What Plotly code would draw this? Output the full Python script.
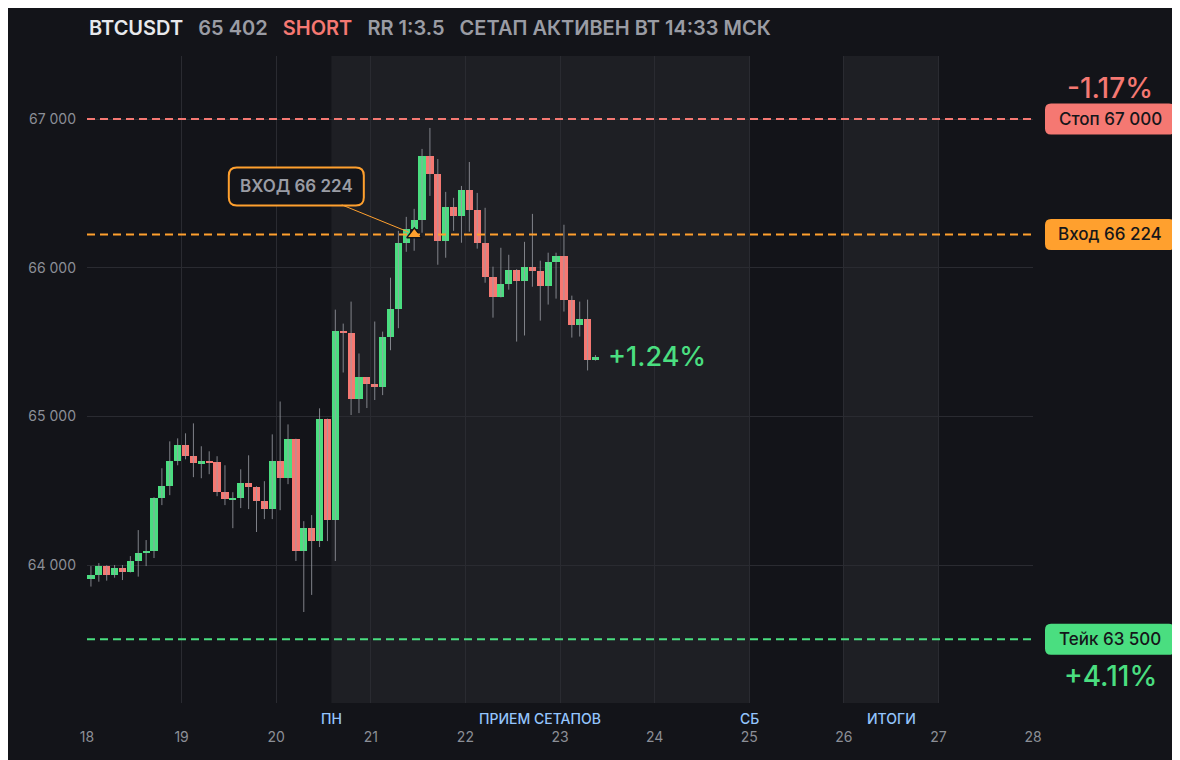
import numpy as np
import plotly.graph_objects as go

# 2h candles starting on the 18th
OPEN = [63908, 63933, 63993, 63935, 63980, 63953, 64027, 64081, 64094, 64450,
        64530, 64698, 64805, 64732, 64685, 64698, 64690, 64490, 64436, 64450,
        64550, 64524, 64430, 64376, 64698, 64584, 64846, 64094, 64248, 64161,
        64980, 64302, 65577, 65562, 65116, 65262, 65217, 65197, 65537, 65725,
        66168, 66262, 66322, 66752, 66631, 66181, 66409, 66349, 66523, 66389,
        66168, 65940, 65805, 65893, 65987, 65913, 66007, 65980, 65879, 66040,
        66081, 65785, 65617, 65658, 65380]
HIGH = [63993, 64013, 63998, 64000, 64000, 64060, 64235, 64168, 64456, 64651,
        64832, 64852, 64886, 64953, 64799, 64765, 64732, 64671, 64490, 64644,
        64738, 64530, 64564, 64879, 65100, 64946, 64850, 64295, 64336, 65054,
        64985, 65718, 65624, 65772, 65423, 65265, 65638, 65570, 65933, 66248,
        66342, 66396, 66799, 66940, 66731, 66510, 66470, 66550, 66711, 66503,
        66403, 66007, 66134, 66087, 65990, 66174, 66362, 66047, 66101, 66101,
        66289, 65812, 65772, 65785, 65412]
LOW = [63855, 63888, 63895, 63915, 63899, 63950, 63922, 63993, 64047, 64403,
       64470, 64671, 64711, 64591, 64584, 64611, 64463, 64403, 64248, 64383,
       64376, 64222, 64309, 64309, 64369, 64544, 64027, 63684, 63799, 64121,
       64161, 64027, 65295, 65009, 65022, 65056, 65110, 65143, 65445, 65593,
       66107, 66114, 66235, 66483, 66020, 66067, 66248, 66168, 66242, 66128,
       65899, 65664, 65800, 65852, 65503, 65544, 65872, 65644, 65752, 65792,
       65705, 65530, 65537, 65309, 65375]
CLOSE = [63933, 63993, 63935, 63980, 63953, 64027, 64081, 64094, 64450, 64530,
         64698, 64805, 64732, 64685, 64698, 64690, 64490, 64443, 64450, 64550,
         64524, 64430, 64376, 64698, 64584, 64846, 64094, 64248, 64161, 64980,
         64302, 65577, 65562, 65116, 65262, 65217, 65197, 65537, 65725, 66168,
         66262, 66322, 66752, 66631, 66181, 66409, 66349, 66523, 66389, 66168,
         65940, 65805, 65893, 65987, 65913, 66007, 65980, 65879, 66040, 66081,
         65785, 65617, 65658, 65380, 65402]

STOP = 67000
ENTRY = 66224
TAKE = 63500
ENTRY_T = 21.46            # вт 14:33 мск
LAST = 65402

DAYS = list(range(18, 29))
Y_TICKS = [64000, 65000, 66000, 67000]
Y_TICK_TEXT = ["64 000", "65 000", "66 000", "67 000"]
SESSION = (20 + 14 / 24, 25)   # пн 14:00 -> сб
RESULTS = (26, 27)

X_RANGE = [18, 28]
Y_RANGE = [63072, 67424]

BG = "#131419"
SHADE = "#1e1f24"
GRID = "#2a2b31"
GREEN = "#4ade80"
RED = "#f57872"
ORANGE = "#ffa02e"
GRAY = "#9a9ca4"
BLUE = "#93c5fd"
FONT = "Inter"

# page body adds 8px around the figure
W, H = 1172, 752
M = dict(l=79, r=147, t=48, b=57)
PW = W - M["l"] - M["r"]
PH = H - M["t"] - M["b"]

t = 18 + (np.arange(len(OPEN)) * 2 + 1) / 24
o, h, l, c = map(np.array, (OPEN, HIGH, LOW, CLOSE))


def py(price):
    return (price - Y_RANGE[0]) / (Y_RANGE[1] - Y_RANGE[0])


def px_x(day):
    return (day - X_RANGE[0]) / (X_RANGE[1] - X_RANGE[0])


def rounded_box(cx, cy, w, h, r):
    """Rounded rectangle path in paper coords, sizes in pixels."""
    x0, x1 = cx - w / 2 / PW, cx + w / 2 / PW
    y0, y1 = cy - h / 2 / PH, cy + h / 2 / PH
    rx, ry = r / PW, r / PH
    return (f"M {x0+rx},{y0} L {x1-rx},{y0} Q {x1},{y0} {x1},{y0+ry} "
            f"L {x1},{y1-ry} Q {x1},{y1} {x1-rx},{y1} L {x0+rx},{y1} "
            f"Q {x0},{y1} {x0},{y1-ry} L {x0},{y0+ry} Q {x0},{y0} {x0+rx},{y0} Z")


fig = go.Figure()

# wicks
wx, wy = [], []
for ti, hi, lo in zip(t, h, l):
    wx += [ti, ti, None]
    wy += [lo, hi, None]
fig.add_trace(go.Scatter(x=wx, y=wy, mode="lines",
                         line=dict(color="rgba(155,157,165,0.8)", width=1),
                         hoverinfo="skip", showlegend=False))

# bodies
colors = [GREEN if ci >= oi else RED for oi, ci in zip(o, c)]
fig.add_trace(go.Bar(x=t, base=np.minimum(o, c), y=np.maximum(np.abs(c - o), 8),
                     width=0.076, marker=dict(color=colors, line=dict(width=0)),
                     customdata=np.stack([o, h, l, c], axis=1),
                     hovertemplate="O %{customdata[0]}<br>H %{customdata[1]}"
                                   "<br>L %{customdata[2]}<br>C %{customdata[3]}<extra></extra>",
                     showlegend=False))

# entry marker
fig.add_trace(go.Scatter(x=[ENTRY_T], y=[ENTRY], mode="markers",
                         marker=dict(symbol="triangle-up", size=13, color=ORANGE,
                                     line=dict(color=BG, width=1.5)),
                         hoverinfo="skip", showlegend=False))

shapes = [
    dict(type="rect", xref="x", yref="paper", x0=SESSION[0], x1=SESSION[1], y0=0, y1=1,
         fillcolor=SHADE, line=dict(width=0), layer="below"),
    dict(type="rect", xref="x", yref="paper", x0=RESULTS[0], x1=RESULTS[1], y0=0, y1=1,
         fillcolor=SHADE, line=dict(width=0), layer="below"),
]
for level, col in [(STOP, RED), (ENTRY, ORANGE), (TAKE, GREEN)]:
    shapes.append(dict(type="line", xref="paper", yref="y", x0=0, x1=1, y0=level, y1=level,
                       line=dict(color=col, width=2, dash="8px,5px")))

annotations = []

# right side price tags
LABEL_CX = (1110 - 8 - M["l"]) / PW
for level, col, txt in [(STOP, RED, "Стоп 67 000"), (ENTRY, ORANGE, "Вход 66 224"),
                        (TAKE, GREEN, "Тейк 63 500")]:
    shapes.append(dict(type="path", xref="paper", yref="paper",
                       path=rounded_box(LABEL_CX, py(level), 130, 31, 6),
                       fillcolor=col, line=dict(width=0)))
    annotations.append(dict(xref="paper", yref="y", x=LABEL_CX, y=level, text=txt,
                            xanchor="center", yanchor="middle", showarrow=False,
                            font=dict(family=FONT, size=17, color="#15161a", weight=500)))

pct_stop = (ENTRY - STOP) / ENTRY * 100
pct_take = (ENTRY - TAKE) / ENTRY * 100
pct_now = (ENTRY - LAST) / ENTRY * 100
annotations += [
    dict(xref="paper", yref="y", x=LABEL_CX, y=STOP, yshift=31, text=f"{pct_stop:.2f}%",
         xanchor="center", yanchor="middle", showarrow=False,
         font=dict(family=FONT, size=28, color=RED, weight=500)),
    dict(xref="paper", yref="y", x=LABEL_CX, y=TAKE, yshift=-37, text=f"+{pct_take:.2f}%",
         xanchor="center", yanchor="middle", showarrow=False,
         font=dict(family=FONT, size=28, color=GREEN, weight=500)),
    dict(xref="x", yref="y", x=t[-1], y=LAST, xshift=11, xanchor="left", yanchor="middle",
         text=f"+{pct_now:.2f}%", showarrow=False,
         font=dict(family=FONT, size=27, color=GREEN, weight=500)),
]

# entry callout
BOX_DX, BOX_DY = -118, -48
ex, ey = px_x(ENTRY_T), py(ENTRY)
shapes.append(dict(type="path", xref="paper", yref="paper",
                   path=rounded_box(ex + BOX_DX / PW, ey - BOX_DY / PH, 135, 38, 8),
                   fillcolor=BG, line=dict(color=ORANGE, width=2)))
annotations.append(dict(xref="x", yref="y", x=ENTRY_T, y=ENTRY, ax=BOX_DX, ay=BOX_DY,
                        text="ВХОД 66 224", showarrow=True, arrowhead=0, arrowwidth=1,
                        arrowcolor=ORANGE, standoff=6, borderpad=8,
                        bordercolor="rgba(0,0,0,0)",
                        font=dict(family=FONT, size=17, color=GRAY, weight=600)))

# session labels under the axis
for xpos, txt in [(SESSION[0], "ПН"), (sum(SESSION) / 2, "ПРИЕМ СЕТАПОВ"),
                  (SESSION[1], "СБ"), (sum(RESULTS) / 2, "ИТОГИ")]:
    annotations.append(dict(xref="x", yref="paper", x=xpos, y=-15 / PH,
                            xanchor="center", yanchor="middle", text=txt, showarrow=False,
                            font=dict(family=FONT, size=14, color=BLUE, weight=500)))

# header
header = ("<span style='color:#e8e9ec'>BTCUSDT</span>&nbsp;&nbsp;&nbsp;"
          f"<span style='color:{GRAY}'>65 402</span>&nbsp;&nbsp;&nbsp;"
          f"<span style='color:{RED}'>SHORT</span>&nbsp;&nbsp;&nbsp;"
          f"<span style='color:{GRAY}'>RR 1:3.5</span>&nbsp;&nbsp;&nbsp;"
          f"<span style='color:{GRAY}'>СЕТАП АКТИВЕН ВТ 14:33 МСК</span>")
annotations.append(dict(xref="paper", yref="paper", x=0, y=1 + (M["t"] - 20) / PH,
                        xanchor="left", yanchor="middle", text=header, showarrow=False,
                        font=dict(family=FONT, size=20, weight=600)))

fig.update_layout(
    width=W, height=H, margin=M,
    paper_bgcolor=BG, plot_bgcolor=BG,
    bargap=0, showlegend=False,
    shapes=shapes, annotations=annotations,
    font=dict(family=FONT, color=GRAY),
    xaxis=dict(range=X_RANGE, tickvals=DAYS, ticktext=[str(d) for d in DAYS],
               showgrid=True, gridcolor=GRID, gridwidth=1, zeroline=False,
               showline=False, ticks="", ticklabelstandoff=24,
               tickfont=dict(family=FONT, size=14, color="#8c8f97")),
    yaxis=dict(range=Y_RANGE, tickvals=Y_TICKS, ticktext=Y_TICK_TEXT,
               showgrid=True, gridcolor=GRID, gridwidth=1, zeroline=False,
               showline=False, ticks="", ticklabelstandoff=10,
               tickfont=dict(family=FONT, size=14, color="#8c8f97")),
)

fig.write_html("out.html")
